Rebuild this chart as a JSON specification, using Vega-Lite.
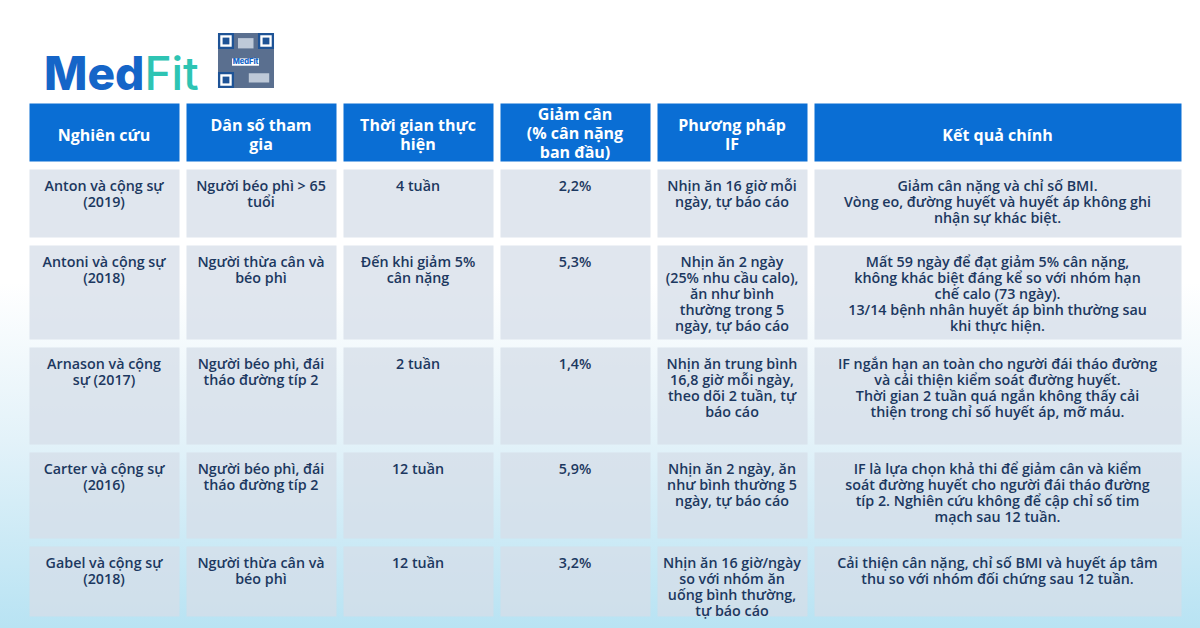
{
  "$schema": "https://vega.github.io/schema/vega-lite/v6.json",
  "width": 1200,
  "height": 628,
  "autosize": {"type": "fit", "contains": "padding"},
  "padding": 0,
  "background": "#ffffff",
  "config": {
    "view": {"stroke": null},
    "axis": {"disable": true},
    "text": {"lineBreak": "\n"}
  },
  "datasets": {
    "cells": [
      {"r": 0, "c": 0, "text": "Nghiên cứu"},
      {"r": 0, "c": 1, "text": "Dân số tham\ngia"},
      {"r": 0, "c": 2, "text": "Thời gian thực\nhiện"},
      {"r": 0, "c": 3, "text": "Giảm cân\n(% cân nặng\nban đầu)"},
      {"r": 0, "c": 4, "text": "Phương pháp\nIF"},
      {"r": 0, "c": 5, "text": "Kết quả chính"},
      {"r": 1, "c": 0, "text": "Anton và cộng sự\n(2019)"},
      {"r": 1, "c": 1, "text": "Người béo phì > 65\ntuổi"},
      {"r": 1, "c": 2, "text": "4 tuần"},
      {"r": 1, "c": 3, "text": "2,2%"},
      {"r": 1, "c": 4, "text": "Nhịn ăn 16 giờ mỗi\nngày, tự báo cáo"},
      {"r": 1, "c": 5, "text": "Giảm cân nặng và chỉ số BMI.\nVòng eo, đường huyết và huyết áp không ghi\nnhận sự khác biệt."},
      {"r": 2, "c": 0, "text": "Antoni và cộng sự\n(2018)"},
      {"r": 2, "c": 1, "text": "Người thừa cân và\nbéo phì"},
      {"r": 2, "c": 2, "text": "Đến khi giảm 5%\ncân nặng"},
      {"r": 2, "c": 3, "text": "5,3%"},
      {"r": 2, "c": 4, "text": "Nhịn ăn 2 ngày\n(25% nhu cầu calo),\năn như bình\nthường trong 5\nngày, tự báo cáo"},
      {"r": 2, "c": 5, "text": "Mất 59 ngày để đạt giảm 5% cân nặng,\nkhông khác biệt đáng kể so với nhóm hạn\nchế calo (73 ngày).\n13/14 bệnh nhân huyết áp bình thường sau\nkhi thực hiện."},
      {"r": 3, "c": 0, "text": "Arnason và cộng\nsự (2017)"},
      {"r": 3, "c": 1, "text": "Người béo phì, đái\ntháo đường típ 2"},
      {"r": 3, "c": 2, "text": "2 tuần"},
      {"r": 3, "c": 3, "text": "1,4%"},
      {"r": 3, "c": 4, "text": "Nhịn ăn trung bình\n16,8 giờ mỗi ngày,\ntheo dõi 2 tuần, tự\nbáo cáo"},
      {"r": 3, "c": 5, "text": "IF ngắn hạn an toàn cho người đái tháo đường\nvà cải thiện kiểm soát đường huyết.\nThời gian 2 tuần quá ngắn không thấy cải\nthiện trong chỉ số huyết áp, mỡ máu."},
      {"r": 4, "c": 0, "text": "Carter và cộng sự\n(2016)"},
      {"r": 4, "c": 1, "text": "Người béo phì, đái\ntháo đường típ 2"},
      {"r": 4, "c": 2, "text": "12 tuần"},
      {"r": 4, "c": 3, "text": "5,9%"},
      {"r": 4, "c": 4, "text": "Nhịn ăn 2 ngày, ăn\nnhư bình thường 5\nngày, tự báo cáo"},
      {"r": 4, "c": 5, "text": "IF là lựa chọn khả thi để giảm cân và kiểm\nsoát đường huyết cho người đái tháo đường\ntíp 2. Nghiên cứu không để cập chỉ số tim\nmạch sau 12 tuần."},
      {"r": 5, "c": 0, "text": "Gabel và cộng sự\n(2018)"},
      {"r": 5, "c": 1, "text": "Người thừa cân và\nbéo phì"},
      {"r": 5, "c": 2, "text": "12 tuần"},
      {"r": 5, "c": 3, "text": "3,2%"},
      {"r": 5, "c": 4, "text": "Nhịn ăn 16 giờ/ngày\nso với nhóm ăn\nuống bình thường,\ntự báo cáo"},
      {"r": 5, "c": 5, "text": "Cải thiện cân nặng, chỉ số BMI và huyết áp tâm\nthu so với nhóm đối chứng sau 12 tuần."}
    ]
  },
  "layer": [
    {
      "data": {"values": [{}]},
      "mark": {
        "type": "rect",
        "color": {
          "gradient": "linear",
          "x1": 0, "y1": 0, "x2": 0, "y2": 1,
          "stops": [
            {"offset": 0, "color": "#ffffff"},
            {"offset": 0.45, "color": "#ffffff"},
            {"offset": 0.7, "color": "#e3f2f9"},
            {"offset": 1, "color": "#b8e3f3"}
          ]
        }
      },
      "encoding": {}
    },
    {
      "data": {"name": "cells"},
      "mark": {"type": "rect", "xOffset": -7, "x2Offset": 0.001, "yOffset": -8, "y2Offset": 0.001},
      "encoding": {
        "x": {"field": "c", "type": "quantitative", "bin": {"step": 1, "extent": [0, 6]},
              "scale": {"domain": [0, 1, 2, 3, 4, 5, 6], "range": [29, 186, 343, 500, 657, 814, 1188], "nice": false, "zero": false}, "axis": null},
        "y": {"field": "r", "type": "quantitative", "bin": {"step": 1, "extent": [0, 6]},
              "scale": {"domain": [-1, 0, 1, 2, 3, 4, 5, 6], "range": [0, 103, 169, 245, 347, 452, 546, 624], "nice": false, "zero": false}, "axis": null},
        "color": {
          "condition": {"test": "datum.r === 0", "value": "#0a6ed4"},
          "value": "#d6dee8"
        },
        "opacity": {
          "condition": {"test": "datum.r === 0", "value": 1},
          "value": 0.75
        }
      }
    },
    {
      "data": {"name": "cells"},
      "transform": [{"filter": "datum.c === 0 || datum.c === 5"}, {"filter": "datum.r === 0"}],
      "mark": {"type": "text", "font": "Open Sans", "fontSize": 16, "fontWeight": 700, "color": "#ffffff", "baseline": "middle", "align": "center", "lineHeight": 19, "xOffset": -3.5, "yOffset": 0},
      "encoding": {
        "x": {"field": "c", "type": "quantitative", "bin": {"step": 1, "extent": [0, 6]}},
        "y": {"field": "r", "type": "quantitative", "bin": {"step": 1, "extent": [0, 6]}},
        "text": {"field": "text"}
      }
    },
    {
      "data": {"name": "cells"},
      "transform": [{"filter": "datum.c === 1 || datum.c === 2 || datum.c === 4"}, {"filter": "datum.r === 0"}],
      "mark": {"type": "text", "font": "Open Sans", "fontSize": 16, "fontWeight": 700, "color": "#ffffff", "baseline": "middle", "align": "center", "lineHeight": 19, "xOffset": -3.5, "yOffset": -10},
      "encoding": {
        "x": {"field": "c", "type": "quantitative", "bin": {"step": 1, "extent": [0, 6]}},
        "y": {"field": "r", "type": "quantitative", "bin": {"step": 1, "extent": [0, 6]}},
        "text": {"field": "text"}
      }
    },
    {
      "data": {"name": "cells"},
      "transform": [{"filter": "datum.c === 3"}, {"filter": "datum.r === 0"}],
      "mark": {"type": "text", "font": "Open Sans", "fontSize": 16, "fontWeight": 700, "color": "#ffffff", "baseline": "middle", "align": "center", "lineHeight": 19, "xOffset": -3.5, "yOffset": -21},
      "encoding": {
        "x": {"field": "c", "type": "quantitative", "bin": {"step": 1, "extent": [0, 6]}},
        "y": {"field": "r", "type": "quantitative", "bin": {"step": 1, "extent": [0, 6]}},
        "text": {"field": "text"}
      }
    },
    {
      "data": {"name": "cells"},
      "transform": [{"filter": "datum.r > 0"}],
      "mark": {"type": "text", "font": "Open Sans", "fontSize": 14.3, "fontWeight": 600, "color": "#1c3860", "baseline": "top", "align": "center", "lineHeight": 16, "xOffset": -3.5, "yOffset": 11},
      "encoding": {
        "x": {"field": "c", "type": "quantitative", "bin": {"step": 1, "extent": [0, 6]}},
        "y": {"field": "r", "type": "quantitative"},
        "text": {"field": "text"}
      }
    },
    {
      "data": {"values": [{}]},
      "mark": {"type": "text", "text": "Med", "font": "Inter", "fontSize": 46, "fontWeight": 800, "color": "#1565c8", "align": "left", "baseline": "alphabetic"},
      "encoding": {"x": {"datum": 0.0955}, "y": {"datum": -0.126}}
    },
    {
      "data": {"values": [{}]},
      "mark": {"type": "text", "text": "Fit", "font": "Inter", "fontSize": 46, "fontWeight": 500, "color": "#2ec4b3", "align": "left", "baseline": "alphabetic"},
      "encoding": {"x": {"datum": 0.735}, "y": {"datum": -0.126}}
    },
    {
      "data": {"values": [{}]},
      "mark": {"type": "rect", "color": "#5a6f8f"},
      "encoding": {"x": {"datum": 1.2038}, "x2": {"datum": 1.5605}, "y": {"datum": -0.6796}, "y2": {"datum": -0.1456}}
    },
    {
      "data": {"values": [{}]},
      "mark": {"type": "rect", "color": "#c9d3e0", "opacity": 0.9},
      "encoding": {"x": {"datum": 1.3310}, "x2": {"datum": 1.4300}, "y": {"datum": -0.6300}, "y2": {"datum": -0.5300}}
    },
    {
      "data": {"values": [{}]},
      "mark": {"type": "rect", "color": "#c9d3e0", "opacity": 0.9},
      "encoding": {"x": {"datum": 1.4000}, "x2": {"datum": 1.5300}, "y": {"datum": -0.2900}, "y2": {"datum": -0.2000}}
    },
    {
      "data": {"values": [{}]},
      "mark": {"type": "rect", "fill": "#ffffff", "stroke": "#1e5396", "strokeWidth": 2.3},
      "encoding": {"x": {"datum": 1.2110}, "x2": {"datum": 1.2985}, "y": {"datum": -0.6686}, "y2": {"datum": -0.5353}}
    },
    {
      "data": {"values": [{}]},
      "mark": {"type": "rect", "fill": "#ffffff", "stroke": "#1e5396", "strokeWidth": 2.3},
      "encoding": {"x": {"datum": 1.4658}, "x2": {"datum": 1.5533}, "y": {"datum": -0.6686}, "y2": {"datum": -0.5353}}
    },
    {
      "data": {"values": [{}]},
      "mark": {"type": "rect", "fill": "#ffffff", "stroke": "#1e5396", "strokeWidth": 2.3},
      "encoding": {"x": {"datum": 1.2110}, "x2": {"datum": 1.2985}, "y": {"datum": -0.2899}, "y2": {"datum": -0.1566}}
    },
    {
      "data": {"values": [{}]},
      "mark": {"type": "rect", "color": "#1e5396"},
      "encoding": {"x": {"datum": 1.2331}, "x2": {"datum": 1.2764}, "y": {"datum": -0.6350}, "y2": {"datum": -0.5689}}
    },
    {
      "data": {"values": [{}]},
      "mark": {"type": "rect", "color": "#1e5396"},
      "encoding": {"x": {"datum": 1.4879}, "x2": {"datum": 1.5312}, "y": {"datum": -0.6350}, "y2": {"datum": -0.5689}}
    },
    {
      "data": {"values": [{}]},
      "mark": {"type": "rect", "color": "#1e5396"},
      "encoding": {"x": {"datum": 1.2331}, "x2": {"datum": 1.2764}, "y": {"datum": -0.2563}, "y2": {"datum": -0.1903}}
    },
    {
      "data": {"values": [{}]},
      "mark": {"type": "rect", "color": "#ffffff"},
      "encoding": {"x": {"datum": 1.2930}, "x2": {"datum": 1.4650}, "y": {"datum": -0.4330}, "y2": {"datum": -0.3620}}
    },
    {
      "data": {"values": [{}]},
      "mark": {"type": "text", "text": "MedFit", "font": "Inter", "fontSize": 7.5, "fontWeight": 800, "color": "#1565c8", "align": "center", "baseline": "middle"},
      "encoding": {"x": {"datum": 1.3790}, "y": {"datum": -0.3975}}
    }
  ]
}
